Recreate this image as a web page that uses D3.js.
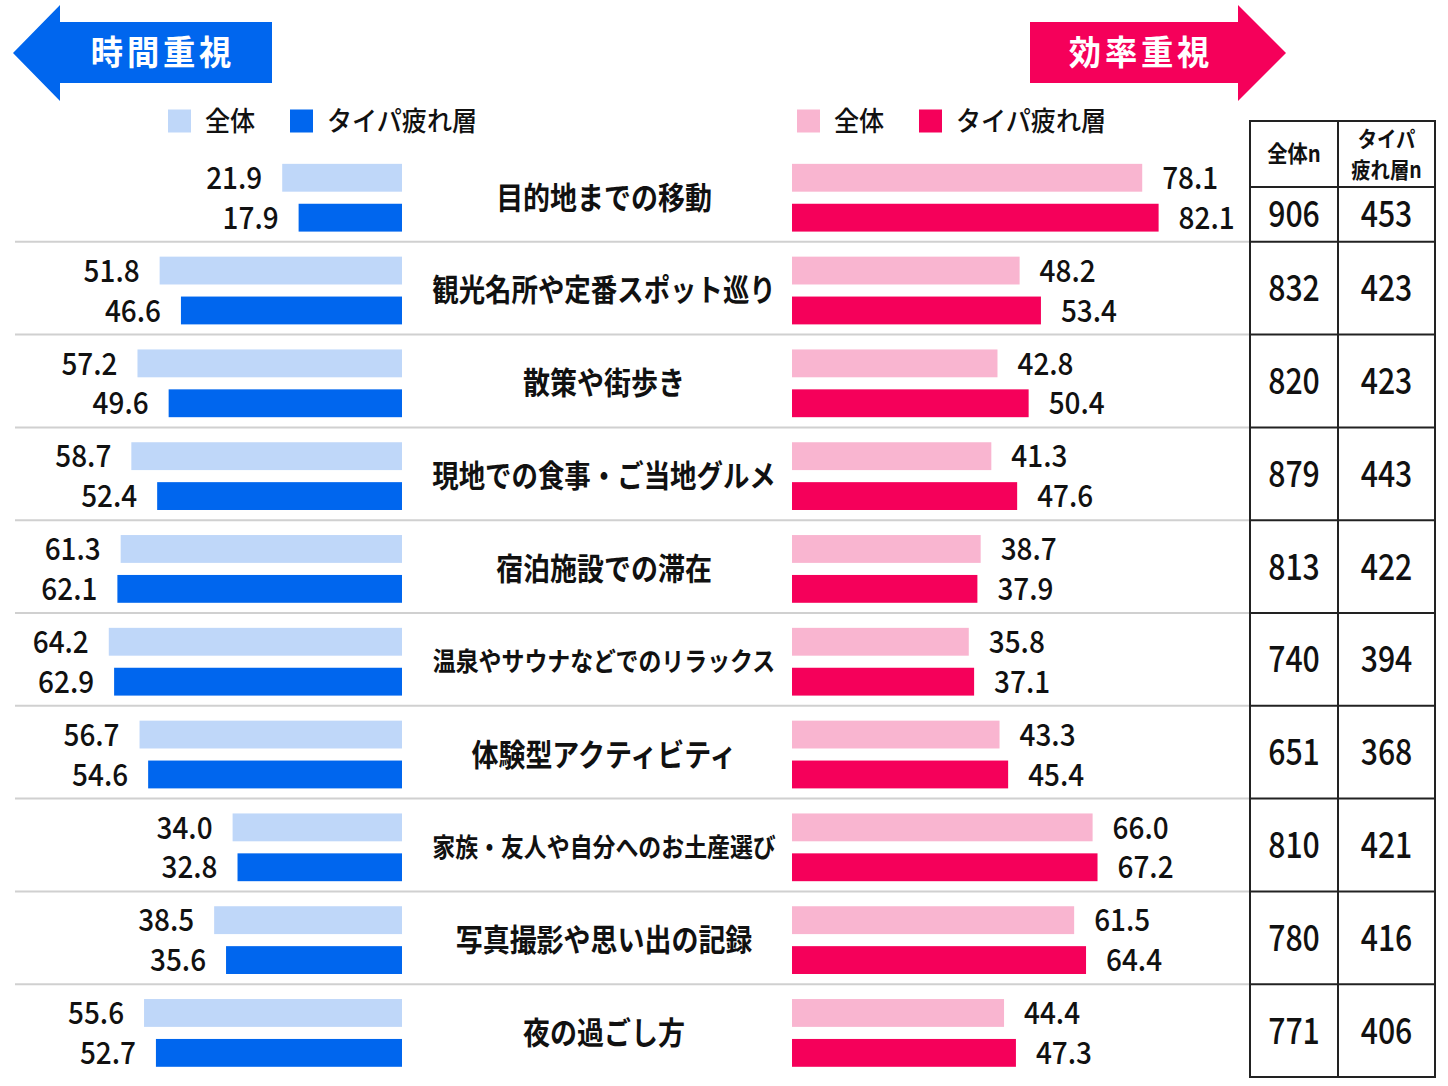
<!DOCTYPE html>
<html>
<head>
<meta charset="utf-8">
<script src="https://cdn.jsdelivr.net/npm/d3@7"></script>
<style>
  body { margin: 0; background: #fff; }
  svg { display: block; font-family: "Noto Sans CJK JP", "Noto Sans", sans-serif; }
</style>
</head>
<body>
<svg id="chart" width="1448" height="1086"></svg>
<script>
// categories (top to bottom)
var categories = ["目的地までの移動", "観光名所や定番スポット巡り", "散策や街歩き", "現地での食事・ご当地グルメ",
  "宿泊施設での滞在", "温泉やサウナなどでのリラックス", "体験型アクティビティ",
  "家族・友人や自分へのお土産選び", "写真撮影や思い出の記録", "夜の過ごし方"];

// 時間重視 (left)
var timeAll   = [21.9, 51.8, 57.2, 58.7, 61.3, 64.2, 56.7, 34.0, 38.5, 55.6];
var timeTaipa = [17.9, 46.6, 49.6, 52.4, 62.1, 62.9, 54.6, 32.8, 35.6, 52.7];
// 効率重視 (right)
var effAll    = [78.1, 48.2, 42.8, 41.3, 38.7, 35.8, 43.3, 66.0, 61.5, 44.4];
var effTaipa  = [82.1, 53.4, 50.4, 47.6, 37.9, 37.1, 45.4, 67.2, 64.4, 47.3];
// sample sizes
var nAll   = [906, 832, 820, 879, 813, 740, 651, 810, 780, 771];
var nTaipa = [453, 423, 423, 443, 422, 394, 368, 421, 416, 406];

var legendLabels = ["全体", "タイパ疲れ層"];

var BLUE = "#0066ee", LBLUE = "#bfd7f9", PINK = "#f5005a", LPINK = "#f9b5d0";

var svg = d3.select("#chart");

var leftEnd = 402, rightStart = 792, labelCenter = 604;
var tableX0 = 1250, tableX1 = 1435, tableMid = 1338, tableTop = 121, headBottom = 187;

var y = d3.scaleBand().domain(d3.range(categories.length)).range([149, 1077]);
var bw = y.bandwidth();
var len = d3.scaleLinear().domain([0, 100]).range([30, 440]);

// condensed text: the original artwork uses a narrow face
function ctext(sel, x, yy, sx) {
  return sel.append("text")
    .attr("transform", function(d, i) {
      var xv = typeof x === "function" ? x(d, i) : x;
      var yv = typeof yy === "function" ? yy(d, i) : yy;
      return "translate(" + xv + "," + yv + ") scale(" + sx + ",1)";
    })
    .attr("dy", "0.36em").attr("fill", "#111");
}

/* header arrows */
var arrowL = [[13,53],[60,5],[60,22],[272,22],[272,83],[60,83],[60,101]];
var arrowR = [[1030,22],[1238,22],[1238,5],[1286,53],[1238,101],[1238,83],[1030,83]];
svg.append("path").attr("d", d3.line()(arrowL) + "Z").attr("fill", BLUE);
svg.append("path").attr("d", d3.line()(arrowR) + "Z").attr("fill", PINK);
ctext(svg, 163, 53, 0.95).attr("text-anchor", "middle").attr("fill", "#fff").attr("font-size", 34)
  .attr("font-weight", 700).attr("letter-spacing", 4).text("時間重視");
ctext(svg, 1141, 53, 0.95).attr("text-anchor", "middle").attr("fill", "#fff").attr("font-size", 34)
  .attr("font-weight", 700).attr("letter-spacing", 4).text("効率重視");

/* legends */
function legend(x0, colors) {
  var g = svg.append("g").attr("transform", "translate(" + x0 + ",121)");
  var offs = [0, 122];
  legendLabels.forEach(function(t, i) {
    g.append("rect").attr("x", offs[i]).attr("y", -11.5).attr("width", 23).attr("height", 23).attr("fill", colors[i]);
    ctext(g, offs[i] + 37, 0, 0.93).attr("font-size", 27).attr("font-weight", 500).text(t);
  });
}
legend(168, [LBLUE, BLUE]);
legend(797, [LPINK, PINK]);

/* row separators */
svg.selectAll("line.sep").data(d3.range(1, categories.length)).enter().append("line")
  .attr("class", "sep")
  .attr("x1", 15).attr("x2", tableX0)
  .attr("y1", function(i) { return y(i); }).attr("y2", function(i) { return y(i); })
  .attr("stroke", "#d0d0d0").attr("stroke-width", 2);

var rows = svg.selectAll("g.row").data(categories).enter().append("g")
  .attr("class", "row")
  .attr("transform", function(d, i) { return "translate(0," + y(i) + ")"; });

var yA = 0.16 * bw, yB = 0.59 * bw, bh = 0.30 * bw;

/* bars + value labels */
function leftBar(vals, top, color) {
  rows.append("rect")
    .attr("x", function(d, i) { return leftEnd - len(vals[i]); })
    .attr("y", top).attr("width", function(d, i) { return len(vals[i]); })
    .attr("height", bh).attr("fill", color);
  ctext(rows, function(d, i) { return leftEnd - len(vals[i]) - 20; }, top + bh / 2, 0.9)
    .attr("text-anchor", "end").attr("font-size", 31).attr("font-weight", 500)
    .text(function(d, i) { return vals[i].toFixed(1); });
}
function rightBar(vals, top, color) {
  rows.append("rect")
    .attr("x", rightStart)
    .attr("y", top).attr("width", function(d, i) { return len(vals[i]); })
    .attr("height", bh).attr("fill", color);
  ctext(rows, function(d, i) { return rightStart + len(vals[i]) + 20; }, top + bh / 2, 0.9)
    .attr("text-anchor", "start").attr("font-size", 31).attr("font-weight", 500)
    .text(function(d, i) { return vals[i].toFixed(1); });
}
leftBar(timeAll, yA, LBLUE);
leftBar(timeTaipa, yB, BLUE);
rightBar(effAll, yA, LPINK);
rightBar(effTaipa, yB, PINK);

/* category labels */
ctext(rows, labelCenter, (yA + yB + bh) / 2, 0.87)
  .attr("text-anchor", "middle").attr("font-weight", 700)
  .attr("font-size", function(d) { return Math.min(31, 395 / d.length); })
  .text(function(d) { return d; });

/* n table */
var tBottom = y(categories.length - 1) + bw;
var tg = svg.append("g").attr("stroke", "#222").attr("stroke-width", 2);
tg.append("rect").attr("x", tableX0).attr("y", tableTop).attr("width", tableX1 - tableX0)
  .attr("height", tBottom - tableTop).attr("fill", "none");
tg.append("line").attr("x1", tableMid).attr("x2", tableMid).attr("y1", tableTop).attr("y2", tBottom);
var hLines = [headBottom].concat(d3.range(1, categories.length).map(function(i) { return y(i); }));
tg.selectAll("line.h").data(hLines).enter().append("line").attr("class", "h")
  .attr("x1", tableX0).attr("x2", tableX1)
  .attr("y1", function(d) { return d; }).attr("y2", function(d) { return d; });

var c1 = (tableX0 + tableMid) / 2, c2 = (tableMid + tableX1) / 2;
ctext(svg, c1, (tableTop + headBottom) / 2, 0.88)
  .attr("text-anchor", "middle").attr("font-size", 23).attr("font-weight", 700).text("全体n");
ctext(svg, c2, 139, 0.88)
  .attr("text-anchor", "middle").attr("font-size", 22).attr("font-weight", 700).text("タイパ");
ctext(svg, c2, 170, 0.88)
  .attr("text-anchor", "middle").attr("font-size", 22).attr("font-weight", 700).text("疲れ層n");

function cellMid(d, i) {
  var top = i === 0 ? headBottom : y(i);
  return (top + y(i) + bw) / 2;
}
ctext(svg.selectAll("text.nall").data(nAll).enter(), c1, cellMid, 0.84)
  .attr("class", "nall").attr("text-anchor", "middle").attr("font-size", 36).attr("font-weight", 500)
  .text(function(d) { return d; });
ctext(svg.selectAll("text.ntaipa").data(nTaipa).enter(), c2, cellMid, 0.84)
  .attr("class", "ntaipa").attr("text-anchor", "middle").attr("font-size", 36).attr("font-weight", 500)
  .text(function(d) { return d; });
</script>
</body>
</html>
